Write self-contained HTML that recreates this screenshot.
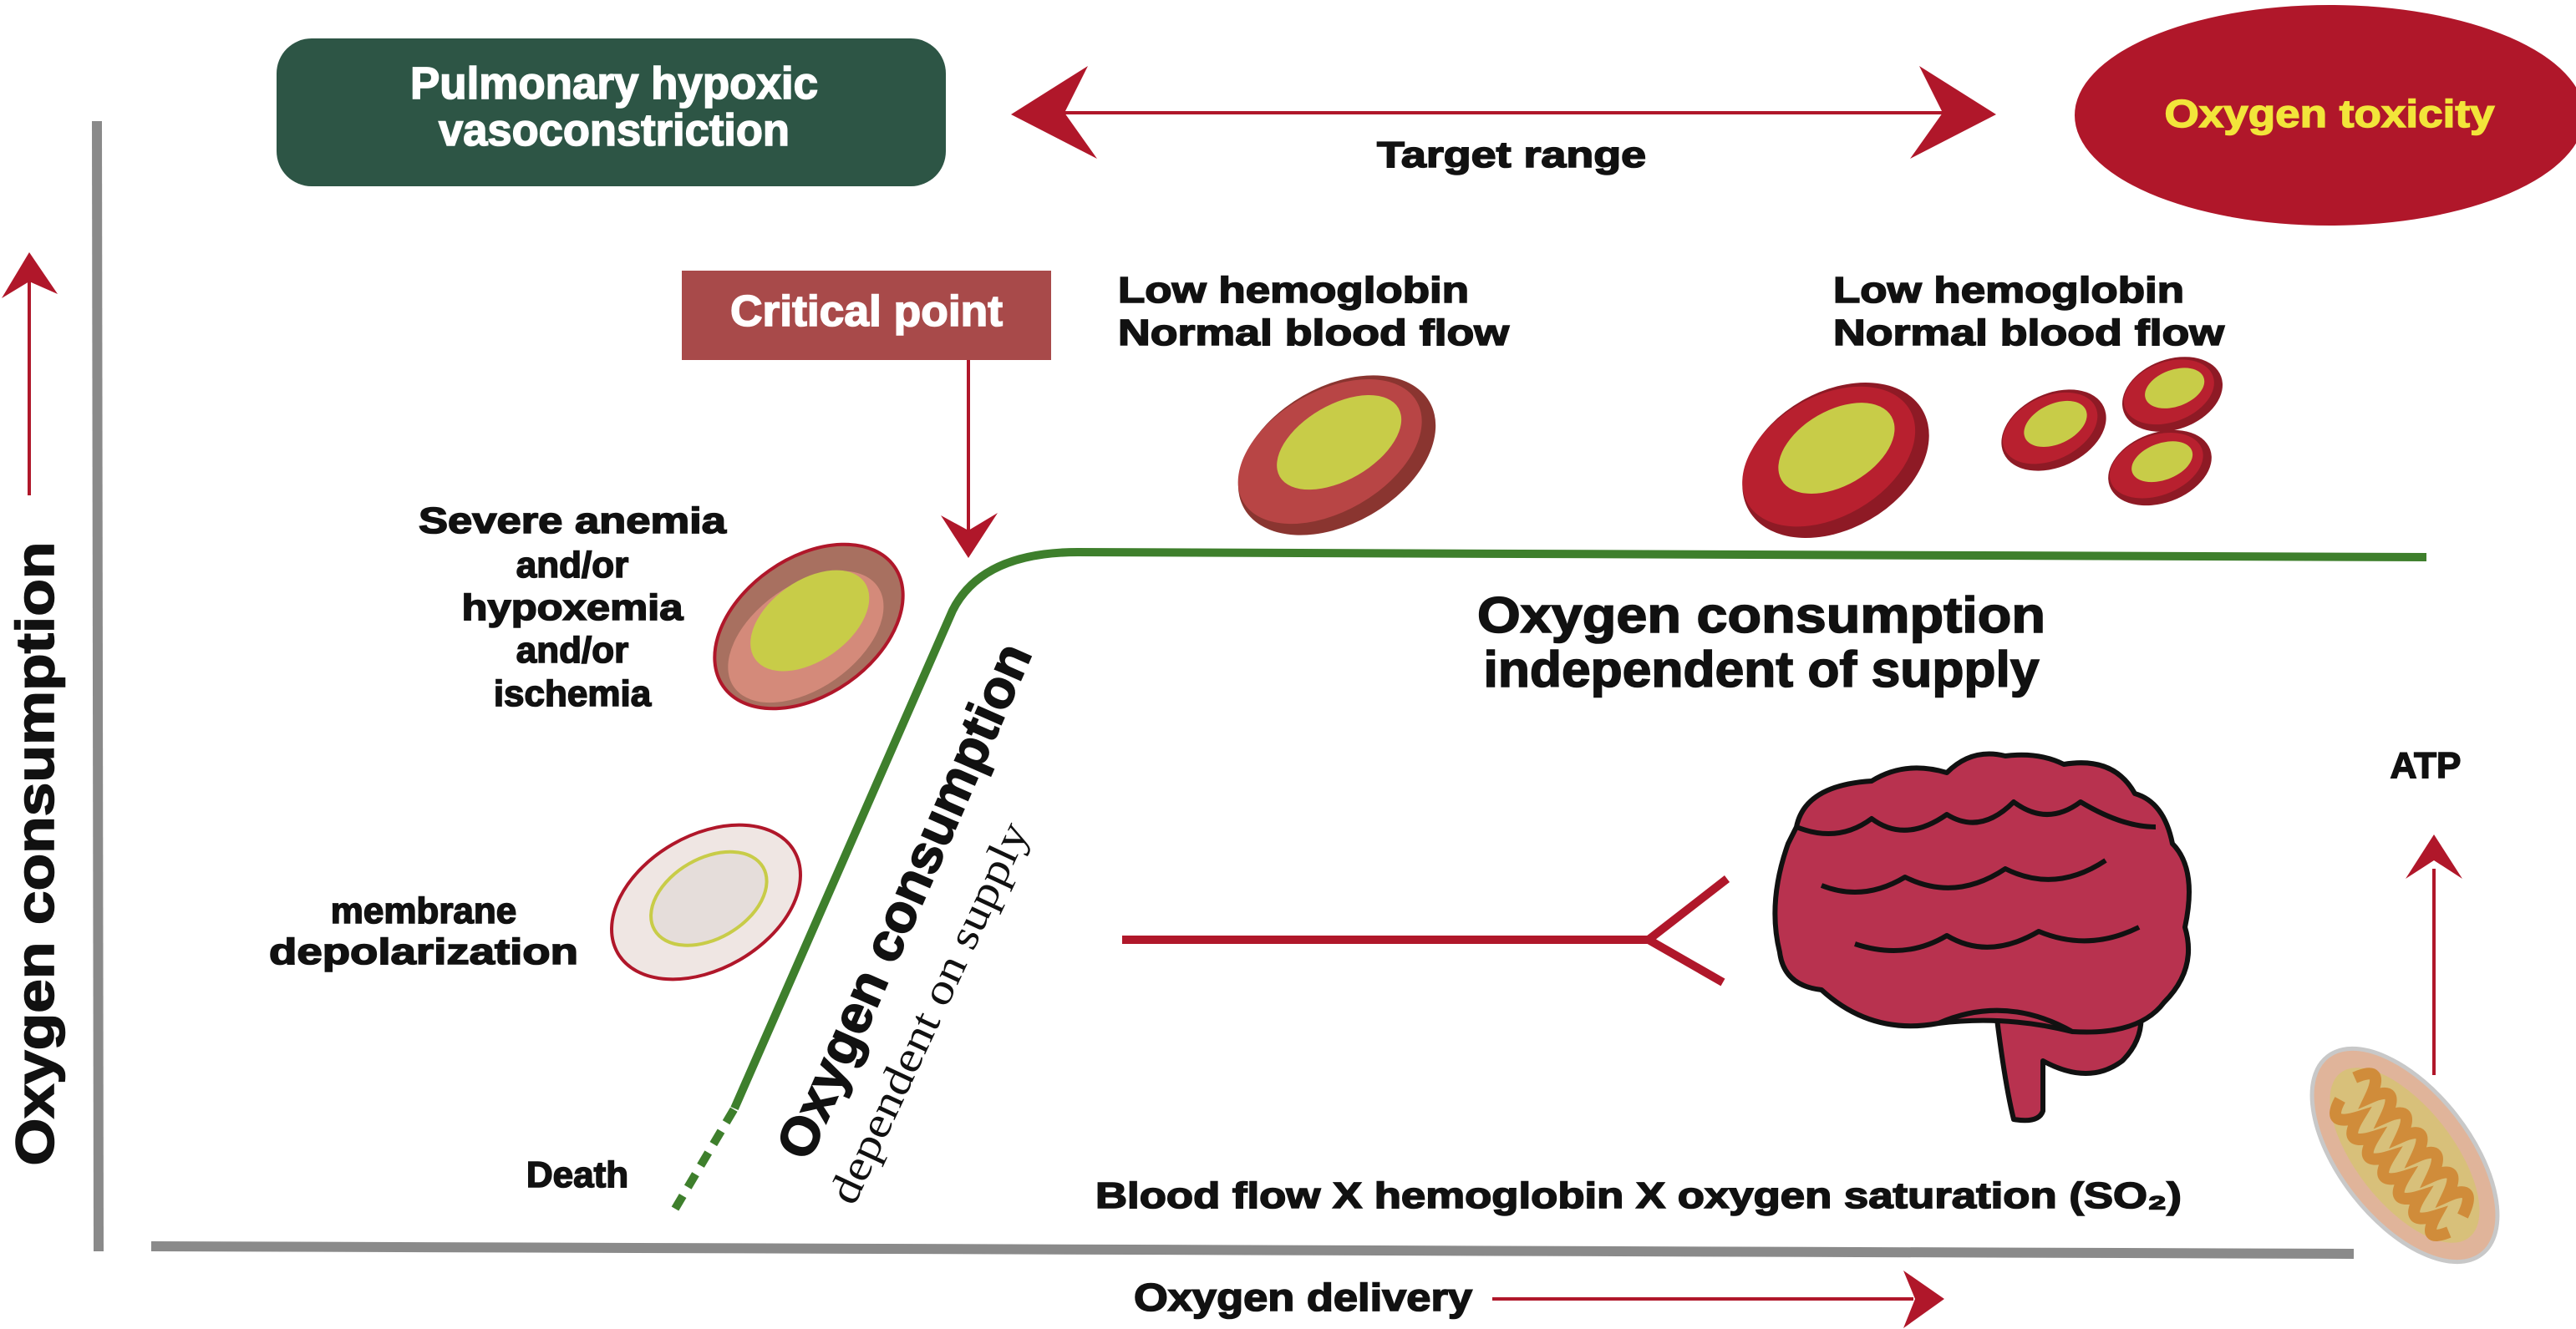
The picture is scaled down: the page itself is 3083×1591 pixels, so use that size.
<!DOCTYPE html>
<html><head><meta charset="utf-8"><style>
html,body{margin:0;padding:0;background:#fff;width:3083px;height:1591px;overflow:hidden}
svg{display:block}
text{font-family:"Liberation Sans",sans-serif;font-weight:bold}
.h{stroke:#111;stroke-width:1.6}
.w{stroke:#fff;stroke-width:1.6}
</style></head><body>
<svg width="3083" height="1591" viewBox="0 0 3083 1591" xmlns="http://www.w3.org/2000/svg">
<!-- axes -->
<line x1="116" y1="145" x2="118" y2="1498" stroke="#8a8a8a" stroke-width="12"/>
<line x1="181" y1="1492" x2="2817" y2="1501" stroke="#8a8a8a" stroke-width="12"/>
<!-- y small arrow -->
<line x1="35" y1="335" x2="35" y2="593" stroke="#b0172a" stroke-width="4"/>
<polygon points="35,302 69,352 35,337 2,357" fill="#b0172a"/>
<text class="h" transform="translate(64,1022) rotate(-90)" text-anchor="middle" font-size="64" textLength="747" lengthAdjust="spacingAndGlyphs" fill="#111">Oxygen consumption</text>
<!-- green box -->
<rect x="331" y="46" width="801" height="177" rx="42" fill="#2d5545"/>
<text class="w" x="735" y="118" text-anchor="middle" font-size="54" fill="#fff" textLength="488" lengthAdjust="spacingAndGlyphs">Pulmonary hypoxic</text>
<text class="w" x="735" y="174" text-anchor="middle" font-size="54" fill="#fff" textLength="420" lengthAdjust="spacingAndGlyphs">vasoconstriction</text>
<!-- target range arrow -->
<line x1="1270" y1="135" x2="2330" y2="135" stroke="#b0172a" stroke-width="4"/>
<polygon points="1210,137 1302,79 1274,135 1313,190" fill="#b0172a"/>
<polygon points="2389,137 2297,79 2325,135 2286,190" fill="#b0172a"/>
<text class="h" x="1809" y="200" text-anchor="middle" font-size="44" textLength="322" lengthAdjust="spacingAndGlyphs" fill="#111">Target range</text>
<!-- toxicity -->
<ellipse cx="2788" cy="138" rx="305" ry="132" fill="#b0172a"/>
<text x="2788" y="152" text-anchor="middle" font-size="46" fill="#f2e53a" stroke="#f2e53a" stroke-width="1.4" textLength="395" lengthAdjust="spacingAndGlyphs">Oxygen toxicity</text>
<!-- critical point -->
<rect x="816" y="324" width="442" height="107" fill="#a84a4a"/>
<text class="w" x="1037" y="390" text-anchor="middle" font-size="52" fill="#fff" textLength="326" lengthAdjust="spacingAndGlyphs">Critical point</text>
<line x1="1159" y1="431" x2="1159" y2="640" stroke="#b0172a" stroke-width="4"/>
<polygon points="1159,668 1126,617 1159,635 1194,614" fill="#b0172a"/>
<!-- labels -->
<g font-size="44" fill="#111" class="h">
<text x="1338" y="362" textLength="420" lengthAdjust="spacingAndGlyphs">Low hemoglobin</text>
<text x="1338" y="413" textLength="468" lengthAdjust="spacingAndGlyphs">Normal blood flow</text>
<text x="2194" y="362" textLength="420" lengthAdjust="spacingAndGlyphs">Low hemoglobin</text>
<text x="2194" y="413" textLength="468" lengthAdjust="spacingAndGlyphs">Normal blood flow</text>
</g>
<g font-size="44" fill="#111" text-anchor="middle" class="h">
<text x="685" y="638" textLength="368" lengthAdjust="spacingAndGlyphs">Severe anemia</text>
<text x="685" y="691">and/or</text>
<text x="685" y="742" textLength="265" lengthAdjust="spacingAndGlyphs">hypoxemia</text>
<text x="685" y="793">and/or</text>
<text x="685" y="845">ischemia</text>
<text x="507" y="1105">membrane</text>
<text x="507" y="1154" textLength="370" lengthAdjust="spacingAndGlyphs">depolarization</text>
<text x="691" y="1421">Death</text>
<text x="2903" y="931">ATP</text>
</g>
<text class="h" x="2108" y="757" text-anchor="middle" font-size="60" textLength="680" lengthAdjust="spacingAndGlyphs" fill="#111">Oxygen consumption</text>
<text class="h" x="2108" y="822" text-anchor="middle" font-size="60" textLength="665" lengthAdjust="spacingAndGlyphs" fill="#111">independent of supply</text>
<text class="h" x="1311" y="1446" font-size="44" textLength="1300" lengthAdjust="spacingAndGlyphs" fill="#111">Blood flow X hemoglobin X oxygen saturation (SO₂)</text>
<text class="h" x="1357" y="1569" font-size="46" textLength="405" lengthAdjust="spacingAndGlyphs" fill="#111">Oxygen delivery</text>
<line x1="1786" y1="1555" x2="2290" y2="1555" stroke="#b0172a" stroke-width="4"/>
<polygon points="2327,1555 2278,1521 2292,1555 2278,1590" fill="#b0172a"/>
<!-- green curve -->
<path d="M879,1327 L1140,731 Q1175,661 1290,661 L2904,667" fill="none" stroke="#3e7f2c" stroke-width="10"/>
<path d="M808,1447 L879,1327" fill="none" stroke="#3e7f2c" stroke-width="10" stroke-dasharray="18,12"/>
<!-- rotated texts -->
<text class="h" transform="translate(968,1392) rotate(-66.3)" font-size="64" textLength="666" lengthAdjust="spacingAndGlyphs" fill="#111">Oxygen consumption</text>
<text transform="translate(1022,1445) rotate(-65)" font-size="52" textLength="497" lengthAdjust="spacingAndGlyphs" fill="#111" style="font-family:'Liberation Serif',serif;font-weight:normal">dependent on supply</text>
<!-- Y connector -->
<path d="M1343,1125 L1973,1125 L2067,1052 M1973,1125 L2062,1176" fill="none" stroke="#b0172a" stroke-width="10"/>
<!-- ATP arrow -->
<line x1="2913" y1="1040" x2="2913" y2="1287" stroke="#b0172a" stroke-width="4"/>
<polygon points="2913,999 2947,1052 2913,1030 2879,1052" fill="#b0172a"/>
<!-- RBCs -->
<g transform="translate(1600,545) rotate(-30)">
<ellipse rx="128" ry="82" fill="#8a3530"/><ellipse cx="-5" cy="-8" rx="120" ry="72" fill="#b84545"/>
<ellipse cx="10" cy="-12" rx="82" ry="45" fill="#c8cc48"/></g>
<g transform="translate(2197,551) rotate(-30)">
<ellipse rx="120" ry="82" fill="#8e1a25"/><ellipse cx="-5" cy="-8" rx="112" ry="72" fill="#b8202f"/>
<ellipse cx="8" cy="-12" rx="76" ry="45" fill="#c8cc48"/></g>
<g transform="translate(2458,515) rotate(-25)">
<ellipse rx="66" ry="44" fill="#8e1a25"/><ellipse cx="-3" cy="-4" rx="60" ry="38" fill="#b8202f"/>
<ellipse cx="5" cy="-6" rx="40" ry="24" fill="#c8cc48"/></g>
<g transform="translate(2600,472) rotate(-20)">
<ellipse rx="62" ry="42" fill="#8e1a25"/><ellipse cx="-3" cy="-4" rx="56" ry="36" fill="#b8202f"/>
<ellipse cx="5" cy="-6" rx="37" ry="22" fill="#c8cc48"/></g>
<g transform="translate(2585,560) rotate(-20)">
<ellipse rx="64" ry="42" fill="#8e1a25"/><ellipse cx="-3" cy="-4" rx="58" ry="36" fill="#b8202f"/>
<ellipse cx="5" cy="-6" rx="38" ry="22" fill="#c8cc48"/></g>
<g transform="translate(968,750) rotate(-35)">
<ellipse rx="125" ry="82" fill="#a87060" stroke="#b0172a" stroke-width="4"/>
<ellipse cx="-10" cy="8" rx="105" ry="62" fill="#d48a7a"/>
<ellipse cx="5" cy="-5" rx="80" ry="48" fill="#c8cc48"/></g>
<g transform="translate(845,1080) rotate(-30)">
<ellipse rx="122" ry="80" fill="#efe6e3" stroke="#b0172a" stroke-width="4"/>
<ellipse cx="5" cy="-2" rx="75" ry="48" fill="#e5ddda" stroke="#c8cc48" stroke-width="4"/></g>
<!-- brain -->
<g stroke="#111" stroke-width="6" stroke-linejoin="round">
<path d="M2390,1220 Q2400,1300 2410,1340 Q2440,1345 2445,1330 L2445,1270 Q2500,1300 2540,1270 Q2570,1240 2560,1200 Z" fill="#b8324f"/>
<path d="M2140,1010 Q2115,1080 2130,1140 Q2135,1180 2180,1185 Q2240,1240 2320,1225 Q2400,1215 2480,1235 Q2560,1240 2590,1200 Q2630,1160 2615,1110 Q2630,1040 2600,1010 Q2590,960 2555,950 Q2530,905 2470,915 Q2440,900 2400,905 Q2360,895 2330,925 Q2280,910 2240,935 Q2160,940 2150,990 Z" fill="#b8324f"/>
<path d="M2150,990 Q2200,1010 2240,980 Q2280,1010 2330,975 Q2370,1000 2410,960 Q2450,990 2490,960 Q2540,990 2580,990" fill="none"/>
<path d="M2180,1060 Q2230,1080 2280,1050 Q2340,1080 2400,1040 Q2460,1070 2520,1030" fill="none"/>
<path d="M2220,1130 Q2280,1150 2330,1120 Q2380,1150 2440,1115 Q2500,1140 2560,1110" fill="none"/>
<path d="M2320,1225 Q2400,1190 2480,1235" fill="none"/>
</g>
<!-- mitochondrion -->
<g transform="translate(2878,1383) rotate(52)">
<ellipse rx="150" ry="78" fill="#e0b49a" stroke="#c8c8c8" stroke-width="5"/>
<ellipse rx="125" ry="58" fill="#d8c07a"/>
<path d="M-110,-10 Q-100,-50 -80,-10 Q-70,-50 -50,-10 Q-40,-50 -20,-10 Q-10,-50 10,-10 Q20,-50 40,-10 Q50,-50 70,-10 Q80,-50 100,-10 M-100,20 Q-85,55 -70,15 Q-55,55 -40,15 Q-25,55 -10,15 Q5,55 20,15 Q35,55 50,15 Q65,55 80,15 Q95,50 105,15" fill="none" stroke="#d08c3a" stroke-width="14"/>
</g>
</svg>
</body></html>
